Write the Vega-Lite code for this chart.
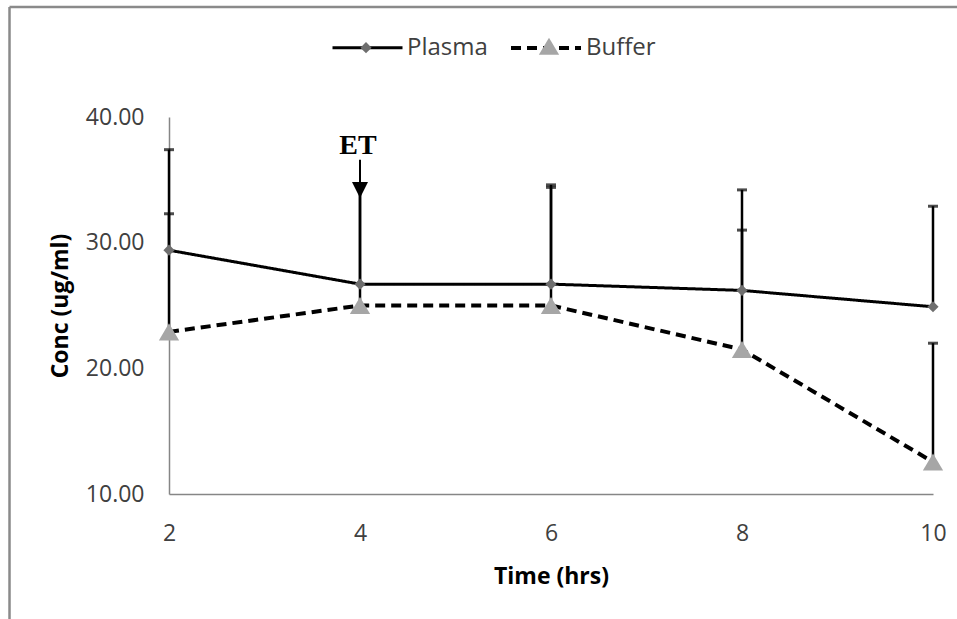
{
  "$schema": "https://vega.github.io/schema/vega-lite/v6.json",
  "width": 764,
  "height": 377,
  "autosize": {"type": "none"},
  "padding": {"left": 169, "top": 117, "right": 24, "bottom": 125},
  "background": "white",
  "config": {"view": {"stroke": null}, "font": "Open Sans"},
  "datasets": {
    "obs": [
      {"series": "Plasma", "time": 2, "value": 29.4, "upper": 37.4},
      {"series": "Plasma", "time": 4, "value": 26.7, "upper": 34.6},
      {"series": "Plasma", "time": 6, "value": 26.7, "upper": 34.6},
      {"series": "Plasma", "time": 8, "value": 26.2, "upper": 34.2},
      {"series": "Plasma", "time": 10, "value": 24.9, "upper": 32.9},
      {"series": "Buffer", "time": 2, "value": 22.9, "upper": 32.3},
      {"series": "Buffer", "time": 4, "value": 25.0, "upper": 34.5},
      {"series": "Buffer", "time": 6, "value": 25.0, "upper": 34.4},
      {"series": "Buffer", "time": 8, "value": 21.5, "upper": 31.0},
      {"series": "Buffer", "time": 10, "value": 12.55, "upper": 22.0}
    ],
    "one": [{}]
  },
  "layer": [
    {
      "data": {"name": "one"},
      "mark": {"type": "rule", "stroke": "#8a8a8a", "strokeWidth": 2.5},
      "encoding": {
        "x": {"datum": 0.33, "type": "quantitative", "scale": {"domain": [2, 10], "nice": false, "zero": false}},
        "x2": {"datum": 10.4},
        "y": {"datum": 48.75, "type": "quantitative", "scale": {"domain": [10, 40], "nice": false, "zero": false}}
      }
    },
    {
      "data": {"name": "one"},
      "mark": {"type": "rule", "stroke": "#8a8a8a", "strokeWidth": 2.5},
      "encoding": {
        "x": {"datum": 0.33, "type": "quantitative"},
        "y": {"datum": 48.75, "type": "quantitative"},
        "y2": {"datum": -2}
      }
    },
    {
      "data": {"name": "obs"},
      "mark": {"type": "rule", "strokeWidth": 2.5, "color": "#000000"},
      "encoding": {
        "x": {"field": "time", "type": "quantitative"},
        "y": {"field": "value", "type": "quantitative"},
        "y2": {"field": "upper"}
      }
    },
    {
      "data": {"name": "obs"},
      "mark": {"type": "tick", "orient": "horizontal", "size": 10, "thickness": 3, "color": "#000000"},
      "encoding": {
        "x": {"field": "time", "type": "quantitative"},
        "y": {"field": "upper", "type": "quantitative"}
      }
    },
    {
      "data": {"name": "obs"},
      "mark": {"type": "line"},
      "encoding": {
        "x": {
          "field": "time", "type": "quantitative",
          "scale": {"domain": [2, 10], "nice": false, "zero": false},
          "axis": {
            "title": "Time (hrs)", "values": [2, 4, 6, 8, 10], "format": "d",
            "ticks": false, "grid": false, "domainColor": "#868686", "domainWidth": 1.5,
            "labelFont": "Open Sans", "labelFontSize": 23, "labelColor": "#404040", "labelPadding": 28, "labelFlush": false,
            "titleFont": "Open Sans", "titleFontSize": 23, "titleFontWeight": "bold", "titleColor": "#000000", "titlePadding": 20
          }
        },
        "y": {
          "field": "value", "type": "quantitative",
          "scale": {"domain": [10, 40], "nice": false, "zero": false},
          "axis": {
            "title": "Conc (ug/ml)", "values": [10, 20, 30, 40], "format": ".2f",
            "ticks": false, "grid": false, "domainColor": "#868686", "domainWidth": 1.5,
            "labelFont": "Open Sans", "labelFontSize": 23, "labelColor": "#404040", "labelPadding": 25, "labelFlush": false,
            "titleFont": "Open Sans", "titleFontSize": 23, "titleFontWeight": "bold", "titleColor": "#000000", "titlePadding": 13
          }
        },
        "color": {
          "field": "series", "type": "nominal",
          "scale": {"domain": ["Plasma", "Buffer"], "range": ["#000000", "#000000"]},
          "legend": {"orient": "none", "legendX": 162, "legendY": -106, "direction": "horizontal", "title": null,
            "symbolType": "stroke", "symbolSize": 4900, "symbolStrokeWidth": 3.5,
            "labelFont": "Open Sans", "labelFontSize": 24, "labelColor": "#404040", "labelOffset": 3, "columnPadding": 15, "padding": 0}
        },
        "strokeDash": {
          "field": "series", "type": "nominal",
          "scale": {"domain": ["Plasma", "Buffer"], "range": [[1, 0], [10, 6]]},
          "legend": {"orient": "none", "legendX": 162, "legendY": -106, "direction": "horizontal", "title": null,
            "symbolType": "stroke", "symbolSize": 4900, "symbolStrokeWidth": 3.5,
            "labelFont": "Open Sans", "labelFontSize": 24, "labelColor": "#404040", "labelOffset": 3, "columnPadding": 15, "padding": 0}
        },
        "strokeWidth": {
          "field": "series", "type": "nominal",
          "scale": {"domain": ["Plasma", "Buffer"], "range": [3, 4]},
          "legend": null
        }
      }
    },
    {
      "data": {"name": "obs"},
      "mark": {"type": "point", "filled": true, "size": 4900, "opacity": 1, "strokeWidth": 0},
      "encoding": {
        "x": {"field": "time", "type": "quantitative"},
        "y": {"field": "value", "type": "quantitative"},
        "shape": {
          "field": "series", "type": "nominal", "sort": "descending",
          "scale": {"range": ["M0,-0.16L0.16,0L0,0.16L-0.16,0Z", "M-0.29,0.245L0.29,0.245L0,-0.245Z"]},
          "legend": {"orient": "none", "legendX": 162, "legendY": -106, "direction": "horizontal", "title": null,
            "symbolSize": 4900, "symbolStrokeWidth": 0, "symbolFillColor": "#6e6e6e", "symbolOpacity": 1,
            "labelExpr": "''", "labelOffset": 0, "columnPadding": 113, "padding": 0}
        },
        "fill": {
          "field": "series", "type": "nominal", "sort": "descending",
          "scale": {"range": ["#6e6e6e", "#a6a6a6"]},
          "legend": {"orient": "none", "legendX": 162, "legendY": -106, "direction": "horizontal", "title": null,
            "symbolSize": 4900, "symbolStrokeWidth": 0, "symbolFillColor": "#6e6e6e", "symbolOpacity": 1,
            "labelExpr": "''", "labelOffset": 0, "columnPadding": 113, "padding": 0}
        }
      }
    },
    {
      "data": {"name": "one"},
      "mark": {"type": "rule", "strokeWidth": 2, "color": "#000000"},
      "encoding": {
        "x": {"datum": 4, "type": "quantitative"},
        "y": {"datum": 36.6, "type": "quantitative"},
        "y2": {"datum": 34.6}
      }
    },
    {
      "data": {"name": "one"},
      "mark": {"type": "point", "shape": "M-1,-1L1,-1L0,1Z", "size": 256, "filled": true, "color": "#000000", "opacity": 1},
      "encoding": {
        "x": {"datum": 4, "type": "quantitative"},
        "y": {"datum": 34.2, "type": "quantitative"}
      }
    },
    {
      "data": {"name": "one"},
      "mark": {"type": "text", "text": "ET", "font": "Liberation Serif", "fontWeight": "bold", "fontSize": 28, "color": "#000000", "baseline": "middle", "align": "center", "dx": -2},
      "encoding": {
        "x": {"datum": 4, "type": "quantitative"},
        "y": {"datum": 37.7, "type": "quantitative"}
      }
    }
  ]
}
